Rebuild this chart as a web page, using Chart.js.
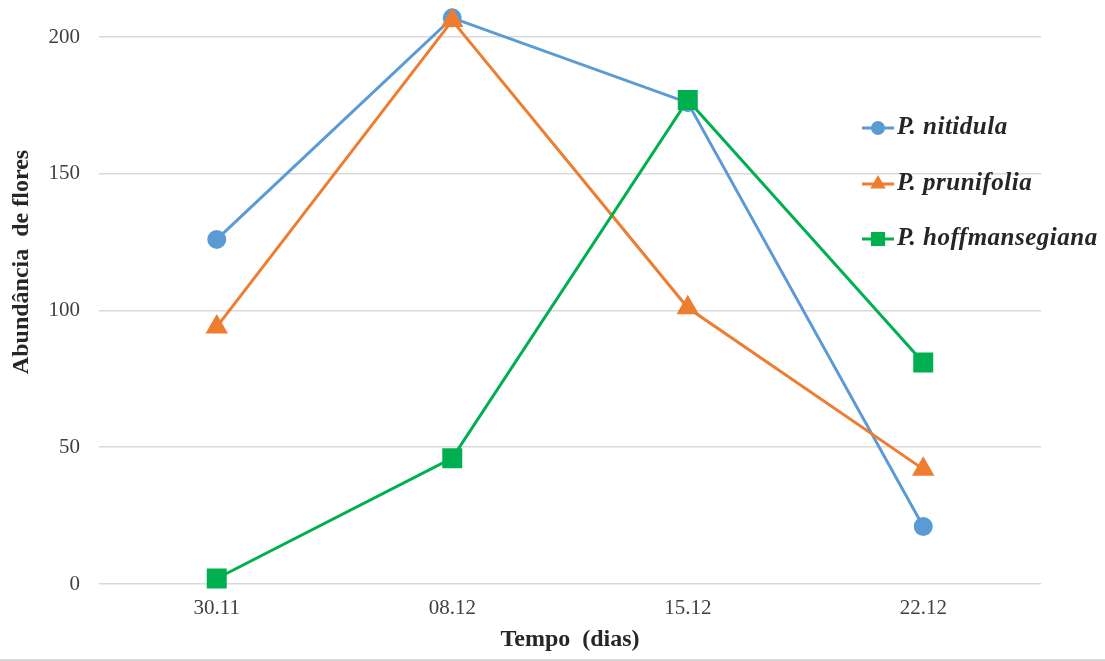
<!DOCTYPE html>
<html lang="pt">
<head>
  <meta charset="UTF-8">
  <title>Abundância de flores</title>
  <script src="https://cdn.jsdelivr.net/npm/chart.js"></script>
  <style>
    html, body { margin: 0; padding: 0; background: #ffffff; }
    #wrap {
      width: 1105px;
      height: 659px;
      border-bottom: 2px solid #d9d9d9;
    }
  </style>
</head>
<body>
  <div id="wrap"><canvas id="grafico"></canvas></div>

  <script>
    // dados
    const datas = ['30.11', '08.12', '15.12', '22.12'];
    const nitidula = [126, 207, 176, 21];
    const prunifolia = [94, 206, 101, 42];
    const hoffmansegiana = [2, 46, 177, 81];
    const yTicks = [0, 50, 100, 150, 200];

    const serif = "'Liberation Serif', 'Times New Roman', serif";

    // título do eixo Y e legenda com linha + marcador
    const extras = {
      id: 'extras',
      afterDraw(chart) {
        const ctx = chart.ctx;
        ctx.save();
        ctx.fillStyle = '#262626';
        ctx.font = 'bold 24px ' + serif;
        ctx.textAlign = 'center';
        ctx.textBaseline = 'middle';
        ctx.translate(22, 262);
        ctx.rotate(-Math.PI / 2);
        ctx.fillText('Abundância  de flores', 0, 0);
        ctx.restore();

        const rows = [128, 184, 239];
        chart.data.datasets.forEach((ds, i) => {
          const y = rows[i];
          ctx.save();
          ctx.strokeStyle = ds.borderColor;
          ctx.lineWidth = 3;
          ctx.beginPath();
          ctx.moveTo(862, y);
          ctx.lineTo(894, y);
          ctx.stroke();
          ctx.fillStyle = ds.backgroundColor;
          const r = { circle: 7, triangle: 9, rect: 10 }[ds.pointStyle];
          Chart.helpers.drawPoint(ctx, { pointStyle: ds.pointStyle, radius: r, borderWidth: 0 }, 878, y);
          ctx.fillStyle = '#262626';
          ctx.font = 'italic bold 25px ' + serif;
          ctx.letterSpacing = '0.5px';
          ctx.textAlign = 'left';
          ctx.textBaseline = 'middle';
          ctx.fillText(ds.label, 897, y);
          ctx.restore();
        });
      }
    };

    new Chart(document.getElementById('grafico'), {
      type: 'line',
      data: {
        labels: datas,
        datasets: [
          {
            label: 'P. nitidula',
            data: nitidula,
            borderColor: '#5b9bd5',
            backgroundColor: '#5b9bd5',
            pointStyle: 'circle',
            pointRadius: 8,
            borderWidth: 3,
            clip: false,
            order: 3
          },
          {
            label: 'P. prunifolia',
            data: prunifolia,
            borderColor: '#ed7d31',
            backgroundColor: '#ed7d31',
            pointStyle: 'triangle',
            pointRadius: 10,
            borderWidth: 3,
            clip: false,
            order: 2
          },
          {
            label: 'P. hoffmansegiana',
            data: hoffmansegiana,
            borderColor: '#00b050',
            backgroundColor: '#00b050',
            pointStyle: 'rect',
            pointRadius: 12,
            borderWidth: 3,
            clip: false,
            order: 1
          }
        ]
      },
      options: {
        responsive: true,
        maintainAspectRatio: false,
        animation: false,
        // topo do eixo em 210 para caberem os pontos acima de 200
        layout: { autoPadding: false, padding: { top: 9.65, right: 64, left: 0, bottom: 0 } },
        plugins: {
          legend: { display: false },
          tooltip: { enabled: false }
        },
        elements: { point: { borderWidth: 0 }, line: { tension: 0 } },
        scales: {
          x: {
            offset: true,
            grid: { display: false, drawTicks: false },
            border: { display: false },
            ticks: { color: '#404040', padding: 12, font: { family: serif, size: 21 } },
            title: {
              display: true,
              text: 'Tempo  (dias)',
              color: '#262626',
              padding: { top: 0, bottom: 5 },
              font: { family: serif, size: 24, weight: 'bold' }
            },
            afterFit(scale) { scale.height = 75; }
          },
          y: {
            min: 0,
            max: 210,
            afterBuildTicks(scale) { scale.ticks = yTicks.map(v => ({ value: v })); },
            grid: { color: '#d9d9d9', lineWidth: 1.5, drawTicks: false },
            border: { display: false },
            ticks: { color: '#404040', padding: 19, font: { family: serif, size: 21 } },
            afterFit(scale) {
              scale.width = 99;
              scale.paddingTop = 0;
              scale.paddingBottom = 0;
            }
          }
        }
      },
      plugins: [extras]
    });
  </script>
</body>
</html>
